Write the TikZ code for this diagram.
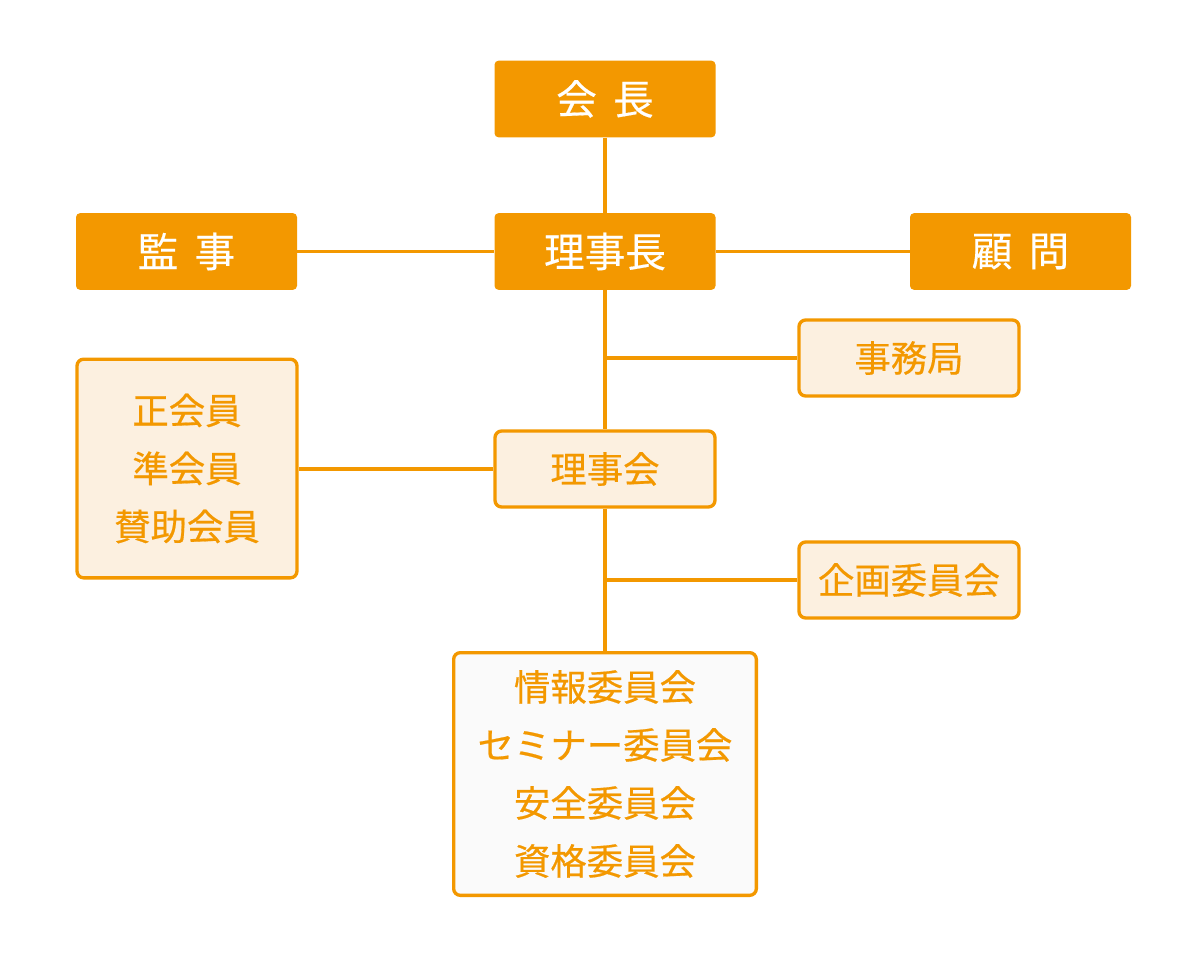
\documentclass[tikz,border=0pt]{standalone}
\usepackage{fontspec}
\newfontfamily\jp[FakeBold=0.3]{Noto Sans CJK JP}
\newfontfamily\jpfuto[FakeBold=0.5]{Noto Sans CJK JP}
\definecolor{daidai}{HTML}{F39800}
\definecolor{usuki}{HTML}{FCF0E0}
\definecolor{usuhai}{HTML}{FAFAFA}
\tikzset{
  yakushoku/.style={fill=daidai, text=white, rounded corners=3pt, minimum width=165.75pt, minimum height=57.5pt, inner sep=0pt, font=\jp\fontsize{30.5}{36}\selectfont},
  soshiki/.style={draw=daidai, line width=2.5pt, fill=usuki, text=daidai, rounded corners=5pt, minimum width=165pt, minimum height=57pt, inner sep=0pt, align=center, font=\jpfuto\fontsize{27.3}{43.5}\selectfont},
  sen/.style={daidai, line width=2.5pt}
}
\begin{document}
\begin{tikzpicture}[x=0.75pt, y=-0.75pt]
            \useasboundingbox (0,0) rectangle (1200,960);

            \node[yakushoku] (kaicho) at (605,99) {会\hspace{0.4em}長};
            \node[yakushoku] (kansa) at (186.5,251.5) {監\hspace{0.4em}事};
            \node[yakushoku] (rijicho) at (605,251.5) {理事長};
            \node[yakushoku] (komon) at (1020.5,251.5) {顧\hspace{0.4em}問};

            \node[soshiki] (jimukyoku) at (909,358) {事務局};
            \node[soshiki] (rijikai) at (605,469) {理事会};
            \node[soshiki] (kikaku) at (909,580) {企画委員会};
            \node[soshiki, minimum height=164pt] (kaiin) at (187,468.5) {正会員\\準会員\\賛助会員};
            \node[soshiki, fill=usuhai, minimum width=227pt, minimum height=182pt] (iinkai) at (605,774) {情報委員会\\セミナー委員会\\安全委員会\\資格委員会};

            \draw[sen] (kaicho) -- (rijicho);
            \draw[sen] (kansa) -- (rijicho);
            \draw[sen] (rijicho) -- (komon);
            \draw[sen] (rijicho) -- (rijikai);
            \draw[sen] (rijikai.west) -- (kaiin.east |- rijikai.west);
            \draw[sen] (rijikai) -- (iinkai);
            \draw[sen] (rijicho.south |- jimukyoku.west) -- (jimukyoku.west);
            \draw[sen] (rijikai.south |- kikaku.west) -- (kikaku.west);
        \end{tikzpicture}
\end{document}
